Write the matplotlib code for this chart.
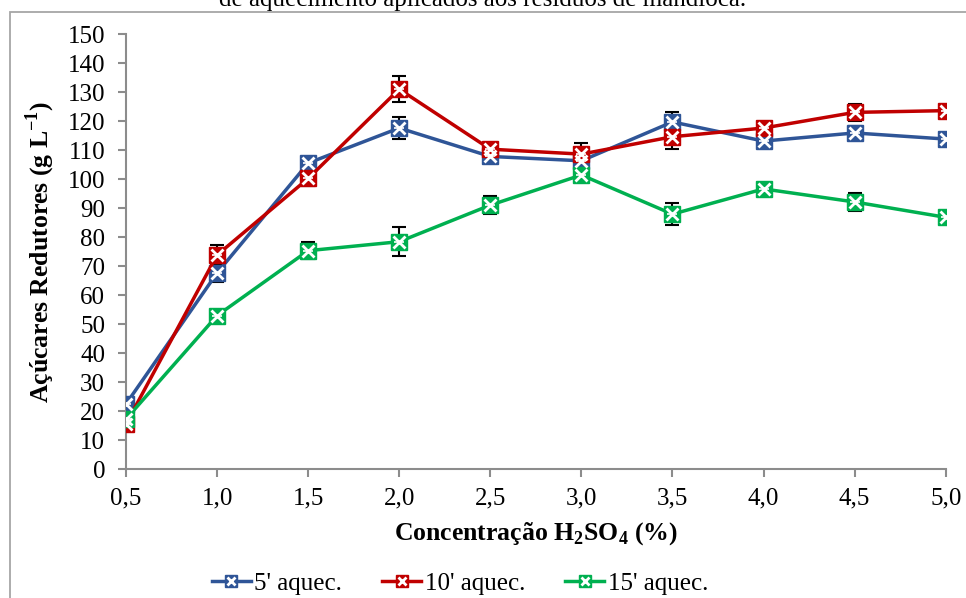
import matplotlib
matplotlib.use("Agg")
import matplotlib.pyplot as plt
from matplotlib.patches import Rectangle
from matplotlib.legend_handler import HandlerTuple

# Sulfuric acid concentration (%)
concentracao = [0.5, 1.0, 1.5, 2.0, 2.5, 3.0, 3.5, 4.0, 4.5, 5.0]
x_labels = ["0,5", "1,0", "1,5", "2,0", "2,5", "3,0", "3,5", "4,0", "4,5", "5,0"]

# Reducing sugars (g/L) for each heating time
aquec_5 = [22.4, 67.6, 105.5, 117.6, 107.8, 106.3, 119.7, 113.1, 115.9, 113.8]
aquec_10 = [15.5, 73.8, 100.2, 131.0, 110.3, 108.6, 114.6, 117.6, 123.0, 123.6]
aquec_15 = [17.2, 52.9, 75.3, 78.4, 91.0, 101.4, 87.9, 96.6, 92.1, 86.8]

err_5 = [1.0, 3.0, 2.0, 3.8, 1.5, 2.0, 3.3, 2.5, 2.5, 2.0]
err_10 = [1.0, 3.5, 2.5, 4.5, 1.5, 3.7, 4.3, 1.5, 3.0, 1.0]
err_15 = [1.0, 1.0, 3.0, 5.0, 3.0, 2.0, 3.7, 1.5, 3.2, 2.0]

series = [
    ("5' aquec.", aquec_5, err_5, "#2F5597"),
    ("10' aquec.", aquec_10, err_10, "#C00000"),
    ("15' aquec.", aquec_15, err_15, "#00B050"),
]

plt.rcParams["font.family"] = ["Liberation Serif", "DejaVu Serif"]
plt.rcParams["mathtext.fontset"] = "custom"
plt.rcParams["mathtext.rm"] = "Liberation Serif"
plt.rcParams["mathtext.bf"] = "Liberation Serif:bold"

fig = plt.figure(figsize=(9.66, 5.98), dpi=100)
ax = fig.add_axes([0.1304, 0.2157, 0.8486, 0.7273])

# outer frame of the chart area
fig.patches.append(Rectangle((9.5 / 966, -0.1), 1.1, 1 - 12 / 598 + 0.1,
                             transform=fig.transFigure, fill=False,
                             edgecolor="#A6A6A6", linewidth=1.3, zorder=0))

# caption line running above the frame
fig.text(0.5, 1 - 6 / 598, "de aquecimento aplicados aos resíduos de mandioca.",
         ha="center", va="baseline", fontsize=18)

handles = []
for label, vals, errs, color in series:
    ax.errorbar(concentracao, vals, yerr=errs, fmt="none", ecolor="black",
                elinewidth=1.5, capsize=5, capthick=1.5, zorder=3)
    (ln,) = ax.plot(concentracao, vals, color=color, linewidth=2.5, marker="s",
                    markersize=12, markerfacecolor=color, markeredgecolor=color,
                    zorder=4, label=label)
    (xm,) = ax.plot(concentracao, vals, linestyle="none", marker="x", markersize=8.5,
                    markeredgecolor="white", markeredgewidth=2, zorder=5)
    ax.plot(concentracao, vals, linestyle="none", marker="_", markersize=7.5,
            markeredgecolor="white", markeredgewidth=1.2, zorder=5)
    handles.append((ln, xm))

ax.set_xlim(0.5, 5.0)
ax.set_ylim(0, 150)
ax.set_xticks(concentracao)
ax.set_xticklabels(x_labels)
ax.set_yticks(range(0, 151, 10))

for side in ("top", "right"):
    ax.spines[side].set_visible(False)
for side in ("left", "bottom"):
    ax.spines[side].set_color("#8C8C8C")
    ax.spines[side].set_linewidth(1.5)
ax.tick_params(axis="both", direction="out", length=6, width=1.5,
               color="#8C8C8C", labelsize=18)
ax.tick_params(axis="y", pad=9)
ax.tick_params(axis="x", pad=7)

ax.set_xlabel(r"Concentração H$_\mathbf{2}$SO$_\mathbf{4}$ (%)", fontsize=18.5,
              fontweight="bold", labelpad=8)
ax.set_ylabel(r"Açúcares Redutores (g L$^\mathbf{-1}$)", fontsize=18.5,
              fontweight="bold", labelpad=8)

leg = fig.legend(handles=handles, labels=[s[0] for s in series],
                 handler_map={tuple: HandlerTuple(ndivide=1, pad=0)},
                 loc="lower center", bbox_to_anchor=(460 / 966, -0.032),
                 ncol=3, frameon=False, fontsize=18, handlelength=1.55,
                 columnspacing=1.6, handletextpad=0.15, markerscale=0.7)

fig.savefig("out.png", dpi=100)
